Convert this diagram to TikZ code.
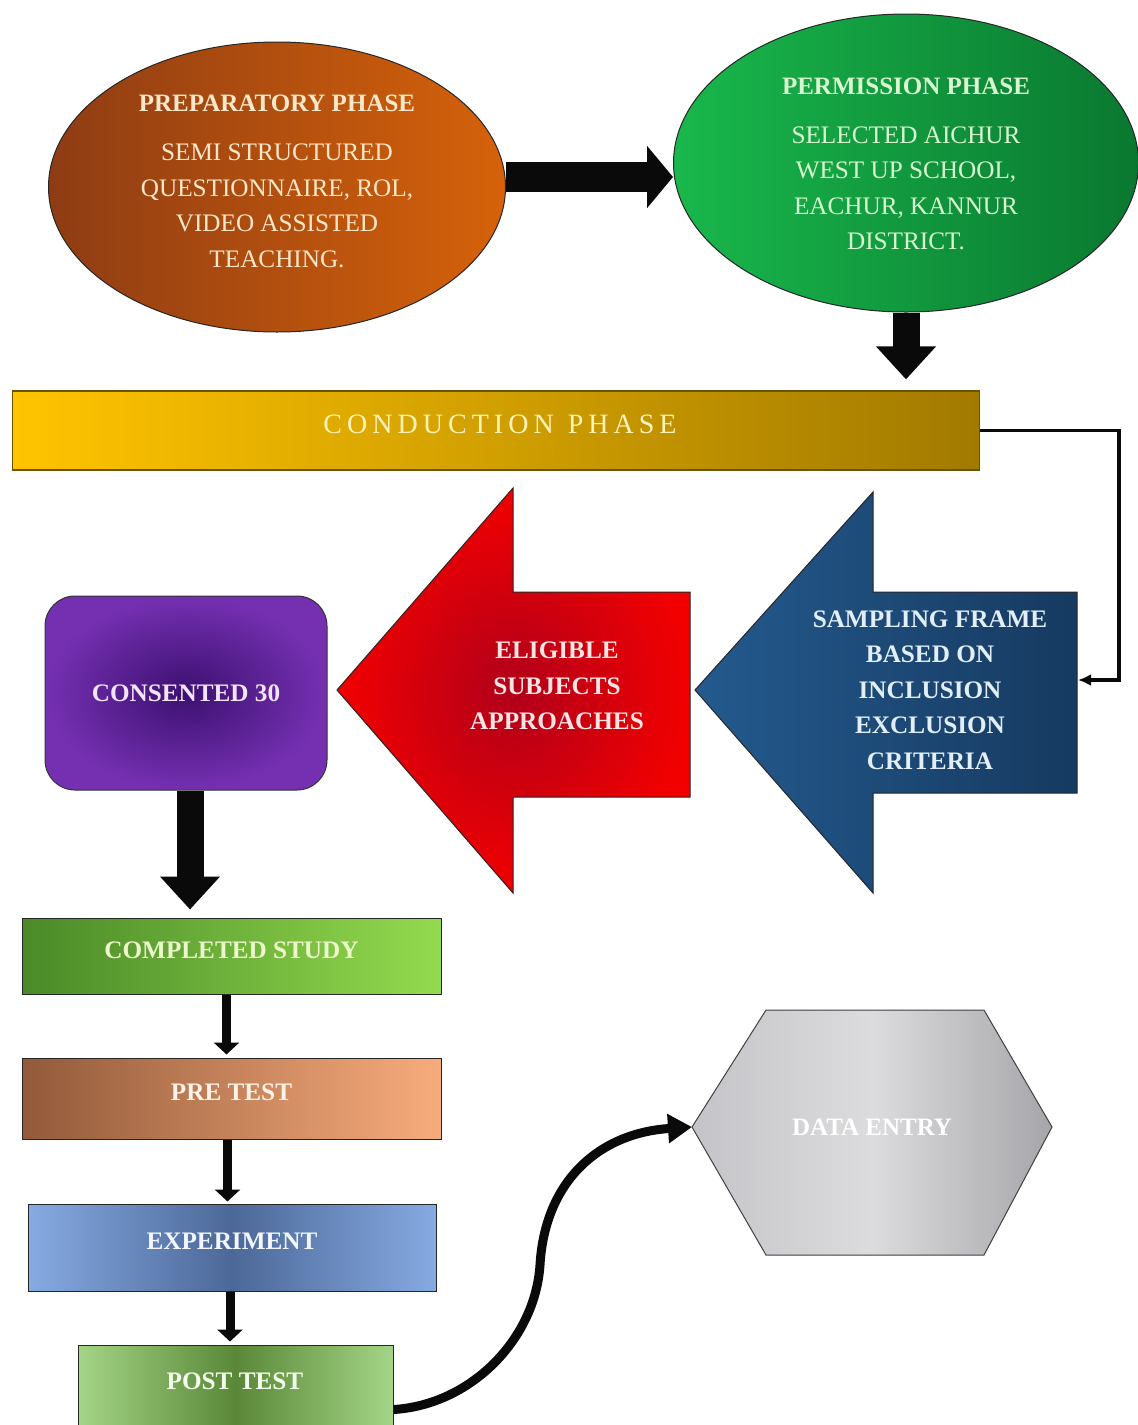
\documentclass[tikz,border=0pt]{standalone}
\usepackage{fontspec}
\setmainfont{Liberation Serif}
\usetikzlibrary{shapes.geometric,arrows.meta,calc}
\definecolor{prepL}{HTML}{8E3C14}
\definecolor{prepR}{HTML}{D6620A}
\definecolor{permL}{HTML}{19B84C}
\definecolor{permR}{HTML}{0A7830}
\definecolor{barL}{HTML}{FFC400}
\definecolor{barR}{HTML}{A27A00}
\definecolor{barE}{HTML}{6E5200}
\definecolor{blueL}{HTML}{245A8E}
\definecolor{blueR}{HTML}{163A60}
\definecolor{redIn}{HTML}{B0001A}
\definecolor{redOut}{HTML}{F20000}
\definecolor{purIn}{HTML}{3C1170}
\definecolor{purOut}{HTML}{7530B2}
\definecolor{compL}{HTML}{4A8A28}
\definecolor{compR}{HTML}{94DA4E}
\definecolor{preL}{HTML}{925A3A}
\definecolor{preR}{HTML}{F8AC7C}
\definecolor{expE}{HTML}{86AAE2}
\definecolor{expM}{HTML}{4C6898}
\definecolor{postE}{HTML}{A4D486}
\definecolor{postM}{HTML}{5A8838}
\definecolor{hexL}{HTML}{C4C4C8}
\definecolor{hexM}{HTML}{DCDCDE}
\definecolor{hexR}{HTML}{A6A6AA}
\definecolor{txtPrep}{HTML}{FCE8C8}
\definecolor{txtPerm}{HTML}{D8F8D0}
\definecolor{txtBar}{HTML}{FFF3B8}
\definecolor{txtBlue}{HTML}{E2EEF8}
\definecolor{txtRed}{HTML}{FAE4E4}
\definecolor{txtPur}{HTML}{F2E4FA}
\definecolor{txtComp}{HTML}{ECF8CC}
\definecolor{txtPre}{HTML}{FFF2E8}
\definecolor{txtExp}{HTML}{F2F6FF}
\definecolor{txtPost}{HTML}{F4FFEE}
\definecolor{arr}{HTML}{0A0A0A}
\begin{document}
\begin{tikzpicture}[x=1pt,y=-1pt,
  bodyfont/.style={font=\fontsize{25.2}{35.5}\selectfont, align=center},
  boldfont/.style={font=\fontsize{25.2}{35.5}\selectfont\bfseries, align=center},
  outline/.style={draw=black!85, line width=1pt},
  flowbox/.style={rectangle, outline, inner sep=0pt, text depth=12pt, boldfont},
  blockarr/.style={draw=arr, line width=30pt, line cap=butt, -{Triangle[length=26pt,width=61pt]}},
  downarr/.style={draw=arr, line width=27pt, line cap=butt, -{Triangle[length=33pt,width=58pt]}},
  smallarr/.style={draw=arr, line width=9pt, line cap=butt, -{Triangle[length=12pt,width=25pt]}},
  conn/.style={draw=arr, line width=3.8pt, -{Latex[length=13pt,width=12pt]}},
  curvearr/.style={draw=arr, line width=9pt, -{Triangle[length=24pt,width=28pt]}}
]
\useasboundingbox (0,0) rectangle (1138,1425);
\fill[white] (0,0) rectangle (1138,1425);

% ---- ellipses
\node[ellipse, outline, left color=prepL, right color=prepR, minimum width=457pt, minimum height=290pt, inner sep=0pt] (prep) at (277,187) {};
\node[bodyfont, text=txtPrep] (preptext) at (277,181)
  {\fontsize{25}{35.5}\selectfont\bfseries PREPARATORY PHASE\\[14pt]SEMI STRUCTURED\\QUESTIONNAIRE, ROL,\\VIDEO ASSISTED\\TEACHING.};

\node[ellipse, outline, left color=permL, right color=permR, minimum width=465pt, minimum height=298pt, inner sep=0pt] (perm) at (906,163) {};
\node[bodyfont, text=txtPerm] (permtext) at (906,164)
  {\fontsize{25}{35.5}\selectfont\bfseries PERMISSION PHASE\\[13pt]SELECTED AICHUR\\WEST UP SCHOOL,\\EACHUR, KANNUR\\DISTRICT.};

\draw[blockarr] ([yshift=10pt]prep.east) -- ([yshift=-14pt]perm.west);

% ---- conduction bar
\node[rectangle, draw=barE, line width=1.2pt, left color=barL, right color=barR, minimum width=967pt, minimum height=79pt, inner sep=0pt] (bar) at (496,430.5) {};
\node[font=\fontsize{28}{32}\selectfont\addfontfeature{LetterSpace=18}, text=txtBar] (bartext) at (500,424) {CONDUCTION\hspace{14pt}PHASE};

\draw[downarr] (perm.south) -- ($(perm.south |- bar.north)+(0,-11)$);

% ---- blue block arrow
\shadedraw[outline, left color=blueL, right color=blueR]
  (695,690) -- (873,492) -- (873,592) -- (1077,592) -- (1077,793) -- (873,793) -- (873,893) -- cycle;
\coordinate (bluein) at (1078,680);
\node[boldfont, text=txtBlue] (blue) at (930,690)
  {SAMPLING FRAME\\BASED ON\\INCLUSION\\EXCLUSION\\CRITERIA};

\draw[conn] (bar.east) -| ($(bluein)+(41,0)$) -- (bluein);

% ---- red block arrow
\shadedraw[outline, inner color=redIn, outer color=redOut]
  (337,690) -- (513,488) -- (513,592) -- (690,592) -- (690,797) -- (513,797) -- (513,893) -- cycle;
\node[boldfont, text=txtRed] (red) at (557,686)
  {ELIGIBLE\\SUBJECTS\\APPROACHES};

% ---- purple rounded box
\node[rectangle, rounded corners=30pt, draw=black!80, line width=1pt, inner color=purIn, outer color=purOut,
  minimum width=282pt, minimum height=194pt, inner sep=0pt, boldfont, text=txtPur] (pur) at (186,693) {CONSENTED 30};

% ---- flow boxes
\node[flowbox, left color=compL, right color=compR, minimum width=419pt, minimum height=76pt, text=txtComp] (comp) at (231.5,956) {COMPLETED STUDY};
\node[flowbox, left color=preL, right color=preR, minimum width=419pt, minimum height=81pt, text=txtPre] (pre) at (231.5,1098.5) {PRE TEST};
\node[flowbox, left color=expE, right color=expE, middle color=expM, minimum width=408pt, minimum height=87pt, text=txtExp] (exp) at (232,1247.5) {EXPERIMENT};
\node[rectangle, outline, left color=postE, right color=postE, middle color=postM, minimum width=315pt, minimum height=100pt, inner sep=0pt] (post) at (235.5,1395) {};
\node[boldfont, text=txtPost] (posttext) at (235,1381) {POST TEST};

\draw[downarr] ([xshift=4pt]pur.south) -- ($([xshift=4pt]pur.south |- comp.north)+(0,-8)$);
\draw[smallarr] ([xshift=-5pt]comp.south) -- ($([xshift=-5pt]comp.south |- pre.north)+(0,-3)$);
\draw[smallarr] ([xshift=-4pt]pre.south) -- ($([xshift=-4pt]pre.south |- exp.north)+(0,-2)$);
\draw[smallarr] ([xshift=-2pt]exp.south) -- ($([xshift=-2pt]exp.south |- post.north)+(0,-3)$);

% ---- hexagon
\shadedraw[draw=black!75, line width=1pt, left color=hexL, right color=hexR, middle color=hexM]
  (692,1127) -- (766,1010) -- (984,1010) -- (1052,1127) -- (984,1255) -- (766,1255) -- cycle;
\coordinate (hexw) at (692,1127);
\node[font=\fontsize{25}{28}\selectfont\bfseries, text=white] (hex) at (872,1127) {DATA ENTRY};

\draw[curvearr] ($(post.north east)+(0,65)$) .. controls (470,1405) and (535,1340) .. (540,1265)
  .. controls (545,1180) and (600,1133) .. (hexw);
\end{tikzpicture}
\end{document}
